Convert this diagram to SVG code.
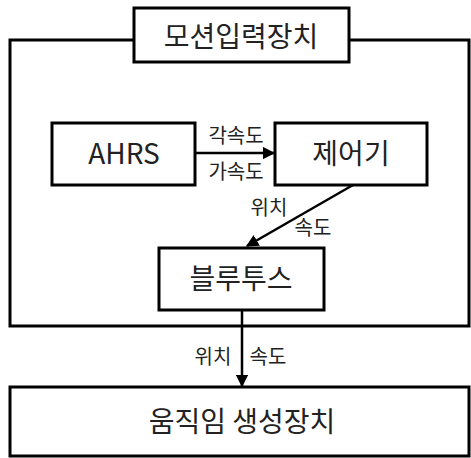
<svg xmlns="http://www.w3.org/2000/svg" width="471" height="458" viewBox="0 0 471 458">
<style>
.box{fill:#fff;stroke:#000;stroke-width:3}
.t{font-family:"Noto Sans CJK KR","Liberation Sans",sans-serif;fill:#222;text-anchor:middle}
.big{font-size:28px}
.small{font-size:20px}
.conn{stroke:#000;stroke-width:2.5;fill:none}
</style>
<defs>
<marker id="ah" viewBox="0 0 10 10" refX="9" refY="5" markerWidth="5" markerHeight="5" orient="auto" markerUnits="strokeWidth">
<path d="M0,0 L10,5 L0,10 z" fill="#000"/>
</marker>
</defs>
<g id="motion-input">
<rect class="box" x="10" y="40" width="459" height="286"/>
<rect class="box" x="134" y="8" width="215" height="54"/>
<text class="t big" x="241" y="47">모션입력장치</text>
</g>
<g id="ahrs">
<rect class="box" x="52" y="123" width="143" height="62"/>
<text class="t big" x="124" y="164" font-family="Liberation Sans">AHRS</text>
</g>
<g id="controller">
<rect class="box" x="275" y="123" width="152" height="62"/>
<text class="t big" x="351" y="164">제어기</text>
</g>
<g id="bluetooth">
<rect class="box" x="159" y="248" width="165" height="62"/>
<text class="t big" x="241" y="289">블루투스</text>
</g>
<g id="motion-gen">
<rect class="box" x="10" y="387" width="459" height="69"/>
<text class="t big" x="242" y="432">움직임 생성장치</text>
</g>
<g id="connectors">
<line class="conn" x1="195" y1="153" x2="274" y2="153" marker-end="url(#ah)"/>
<line class="conn" x1="353" y1="185" x2="247" y2="246" marker-end="url(#ah)"/>
<line class="conn" x1="242" y1="310" x2="242" y2="386" marker-end="url(#ah)"/>
<text class="t small" x="236" y="143">각속도</text>
<text class="t small" x="236" y="179">가속도</text>
<text class="t small" x="269" y="215">위치</text>
<text class="t small" x="313" y="235">속도</text>
<text class="t small" x="213" y="364">위치</text>
<text class="t small" x="268" y="364">속도</text>
</g>
</svg>
